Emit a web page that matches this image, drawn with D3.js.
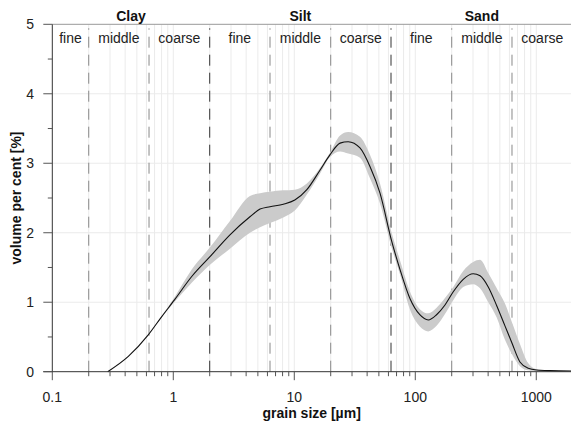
<!DOCTYPE html>
<html><head><meta charset="utf-8">
<script src="https://cdn.jsdelivr.net/npm/d3@7"></script>
<style>
body{margin:0;background:#fff;}
svg{display:block;font-family:"Liberation Sans",Arial,sans-serif;}
</style></head>
<body><svg id="c" width="571" height="429"></svg>
<script>
// grain sizes in µm
const sizes = [0.287,0.425,0.621,0.80,1.03,1.42,2.01,2.94,4.30,5.21,6.30,8.11,10.1,12.7,16.3,19.7,23.9,27.9,34.9,42.3,51.1,63.8,74.8,90.5,109,128,150,176,206,249,301,343,401,471,551,627,733,859,1007,1300,1950];
const meanVals = [0,0.22,0.53,0.79,1.04,1.37,1.656,1.97,2.23,2.34,2.375,2.41,2.47,2.62,2.90,3.12,3.29,3.31,3.22,2.95,2.57,1.88,1.47,1.05,0.82,0.745,0.82,0.96,1.15,1.33,1.41,1.38,1.22,0.95,0.66,0.42,0.14,0.05,0.025,0.015,0.01];
const lowerVals = [0,0.22,0.53,0.78,1.01,1.28,1.54,1.77,2.00,2.08,2.14,2.22,2.32,2.55,2.85,3.09,3.17,3.14,3.08,2.78,2.42,1.78,1.40,0.89,0.65,0.58,0.66,0.83,1.03,1.22,1.26,1.20,1.00,0.78,0.46,0.26,0.08,0.02,0.01,0.005,0.005];
const upperVals = [0,0.22,0.53,0.80,1.08,1.47,1.79,2.17,2.53,2.57,2.59,2.61,2.62,2.71,2.93,3.15,3.40,3.45,3.38,3.12,2.71,2.00,1.60,1.15,0.90,0.84,0.92,1.06,1.22,1.45,1.58,1.61,1.42,1.20,0.98,0.72,0.40,0.12,0.035,0.02,0.012];

const xTicks = [0.1,1,10,100,1000];
const xTickLabels = ["0.1","1","10","100","1000"];
const yTicks = [0,1,2,3,4,5];
const boundaries = [0.2,0.63,2,6.3,20,63,200,630];
const mainBoundaries = [2,63];
const classes = ["Clay","Silt","Sand"];
const classEdges = [0.1,2,63,2000];
const subLabels = ["fine","middle","coarse","fine","middle","coarse","fine","middle","coarse"];
const subEdges = [0.1,0.2,0.63,2,6.3,20,63,200,630,2000];

const svg = d3.select("#c");
const L=52.3, R=572.7, T=24.3, B=371.7;
const x = d3.scaleLog().domain([0.1,2000]).range([L,R]);
const y = d3.scaleLinear().domain([0,5]).range([B,T]);

// vertical minor gridlines
const grid = [];
for (let e=-1; e<=3; e++) for (let m=1; m<=9; m++){ const v=m*Math.pow(10,e); if (v<=2000) grid.push(v); }
svg.append("g").selectAll("line").data(grid.filter(v=>v>0.1)).join("line")
  .attr("x1",d=>x(d)).attr("x2",d=>x(d)).attr("y1",T).attr("y2",B)
  .attr("stroke","#ebebeb").attr("stroke-width",1);
// horizontal gridlines
svg.append("g").selectAll("line").data(yTicks.filter(v=>v>0&&v<5)).join("line")
  .attr("x1",L).attr("x2",R).attr("y1",d=>y(d)).attr("y2",d=>y(d))
  .attr("stroke","#ebebeb").attr("stroke-width",1);

// dashed boundaries
svg.append("g").selectAll("line").data(boundaries).join("line")
  .attr("x1",d=>x(d)).attr("x2",d=>x(d)).attr("y1",B).attr("y2",T+4)
  .attr("stroke",d=>mainBoundaries.includes(d)?"#333":"#888")
  .attr("stroke-width",1).attr("stroke-dasharray","11,7");

// band
const pts = sizes.map((s,i)=>({s, m:meanVals[i], lo:lowerVals[i], hi:upperVals[i]}));
svg.append("path").datum(pts)
  .attr("d", d3.area().x(d=>x(d.s)).y0(d=>y(d.lo)).y1(d=>y(d.hi)).curve(d3.curveMonotoneX))
  .attr("fill","#cbcbcb");
svg.append("path").datum(pts)
  .attr("d", d3.line().x(d=>x(d.s)).y(d=>y(d.m)).curve(d3.curveMonotoneX))
  .attr("fill","none").attr("stroke","#111").attr("stroke-width",1.1);

// top border
svg.append("line").attr("x1",L).attr("x2",R).attr("y1",T).attr("y2",T).attr("stroke","#999");

// x axis
const xa = svg.append("g").attr("transform",`translate(0,${B})`);
xa.append("line").attr("x1",L-9).attr("x2",R).attr("stroke","#333");
const minorX = grid.filter(v=>!xTicks.includes(v));
xa.selectAll("line.mn").data(minorX).join("line").attr("class","mn")
  .attr("x1",d=>x(d)).attr("x2",d=>x(d)).attr("y1",0).attr("y2",4.5).attr("stroke","#555");
xa.selectAll("line.mj").data(xTicks).join("line").attr("class","mj")
  .attr("x1",d=>x(d)).attr("x2",d=>x(d)).attr("y1",0).attr("y2",8.5).attr("stroke","#555");
xa.selectAll("text").data(xTicks).join("text")
  .attr("x",d=>x(d)).attr("y",30).attr("text-anchor","middle")
  .attr("font-size",14).attr("fill","#222").text((d,i)=>xTickLabels[i]);
svg.append("text").attr("x",(L+571)/2).attr("y",418).attr("text-anchor","middle")
  .attr("font-size",14).attr("font-weight","bold").attr("fill","#111").text("grain size [µm]");

// y axis
const ya = svg.append("g");
ya.append("line").attr("x1",L).attr("x2",L).attr("y1",T).attr("y2",B).attr("stroke","#333");
const minorY = d3.range(0.5,5,1);
ya.selectAll("line.mn").data(minorY).join("line").attr("class","mn")
  .attr("x1",L-4.5).attr("x2",L).attr("y1",d=>y(d)).attr("y2",d=>y(d)).attr("stroke","#555");
ya.selectAll("line.mj").data(yTicks).join("line").attr("class","mj")
  .attr("x1",L-9).attr("x2",L).attr("y1",d=>y(d)).attr("y2",d=>y(d)).attr("stroke","#555");
ya.selectAll("text").data(yTicks).join("text")
  .attr("x",34).attr("y",d=>y(d)+5).attr("text-anchor","end")
  .attr("font-size",14).attr("fill","#222").text(d=>d);
svg.append("text").attr("transform",`translate(20.5,${(T+B)/2}) rotate(-90)`)
  .attr("text-anchor","middle").attr("font-size",14).attr("font-weight","bold").attr("fill","#111")
  .text("volume per cent [%]");

// class labels
svg.append("g").selectAll("text").data(classes).join("text")
  .attr("x",(d,i)=>x(Math.sqrt(classEdges[i]*classEdges[i+1])))
  .attr("y",20.5).attr("text-anchor","middle").attr("font-size",14).attr("font-weight","bold").attr("fill","#111")
  .text(d=>d);
svg.append("g").selectAll("text").data(subLabels).join("text")
  .attr("x",(d,i)=>x(Math.sqrt(subEdges[i]*subEdges[i+1])))
  .attr("y",43.3).attr("text-anchor","middle").attr("font-size",14).attr("fill","#222")
  .text(d=>d);
</script></body></html>
